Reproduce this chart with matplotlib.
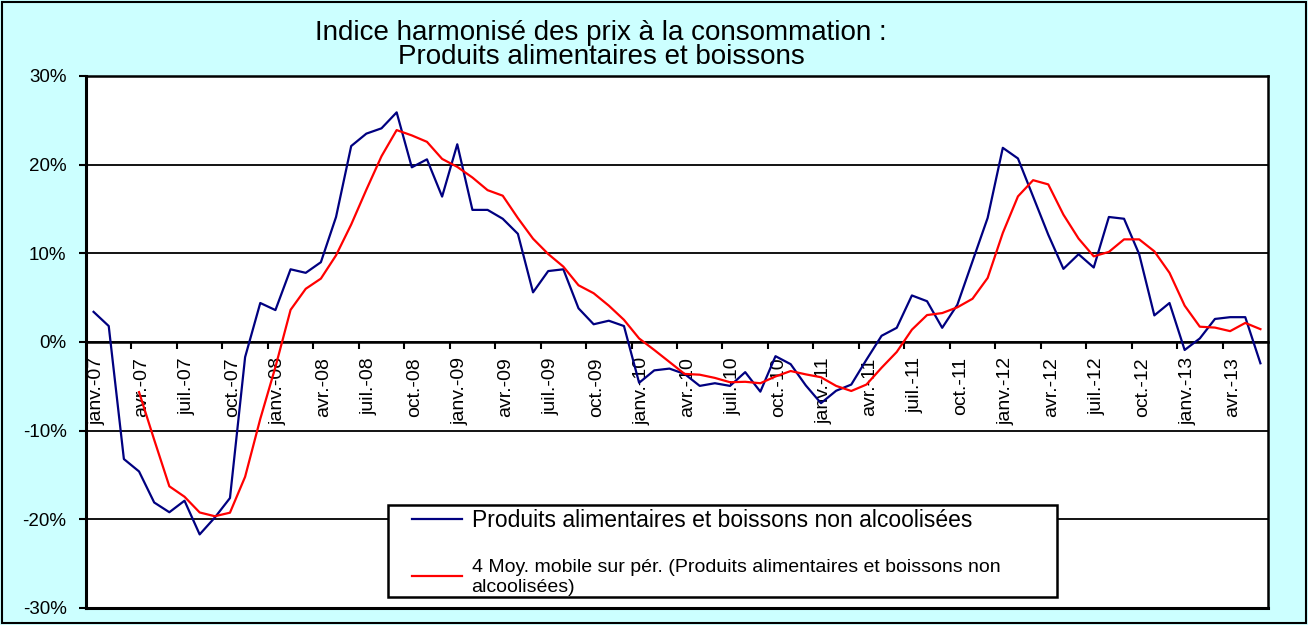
import matplotlib
matplotlib.use('Agg')
import matplotlib.pyplot as plt
import matplotlib.transforms as mtransforms
import numpy as np
import pandas as pd
from matplotlib.patches import Rectangle
from matplotlib.lines import Line2D

plt.rcParams['font.family'] = ['Liberation Sans', 'DejaVu Sans']

# ---- data (monthly, janv.-07 .. juin-13), % year-on-year ----
values = [3.4, 1.8, -13.2, -14.6, -18.1, -19.2, -17.9, -21.7, -19.8, -17.6, -1.7, 4.4,
          3.6, 8.2, 7.8, 9.0, 14.1, 22.1, 23.5, 24.1, 25.9, 19.7, 20.6, 16.4,
          22.3, 14.9, 14.9, 13.9, 12.2, 5.6, 8.0, 8.2, 3.8, 2.0, 2.4, 1.8,
          -4.6, -3.2, -3.0, -3.6, -4.95, -4.65, -4.95, -3.4, -5.6, -1.6, -2.5, -4.9,
          -6.9, -5.5, -4.8, -2.0, 0.7, 1.6, 5.25, 4.6, 1.6, 4.2, 9.1, 14.0,
          21.9, 20.7, 16.4, 12.1, 8.25, 9.9, 8.4, 14.1, 13.9, 9.9, 3.0, 4.4,
          -0.9, 0.4, 2.6, 2.8, 2.8, -2.4]

tick_labels = ['janv.-07', 'avr.-07', 'juil.-07', 'oct.-07',
               'janv.-08', 'avr.-08', 'juil.-08', 'oct.-08',
               'janv.-09', 'avr.-09', 'juil.-09', 'oct.-09',
               'janv.-10', 'avr.-10', 'juil.-10', 'oct.-10',
               'janv.-11', 'avr.-11', 'juil.-11', 'oct.-11',
               'janv.-12', 'avr.-12', 'juil.-12', 'oct.-12',
               'janv.-13', 'avr.-13']

y_ticks = [-30, -20, -10, 0, 10, 20, 30]

series_label = 'Produits alimentaires et boissons non alcoolisées'
trend_label = '4 Moy. mobile sur pér. (Produits alimentaires et boissons non\nalcoolisées)'
title_lines = ['Indice harmonisé des prix à la consommation :',
               'Produits alimentaires et boissons']

# 4-period moving average trendline (as Excel's trendline)
trend = pd.Series(values).rolling(4).mean()

W, H = 1308, 625
fig = plt.figure(figsize=(W / 100, H / 100), dpi=100)
fig.patch.set_facecolor('#CCFFFF')

ax = fig.add_axes([86 / W, 1 - 608 / H, (1268 - 86) / W, (608 - 76) / H])
ax.set_facecolor('white')

x = np.arange(len(values))
ax.plot(x, values, color='#000080', lw=1.6, zorder=3)
ax.plot(x, trend, color='#FF0000', lw=1.6, zorder=3)

ax.set_xlim(-0.5, len(values) - 0.5)
ax.set_ylim(-30, 30)

# y axis
ax.set_yticks(y_ticks)
ax.set_yticklabels([f'{v}%' for v in y_ticks], fontsize=13.5)
ax.tick_params(axis='y', direction='out', length=5, width=1.5, pad=9)
ax.yaxis.grid(True, color='black', lw=1.3)
ax.set_axisbelow(True)

# x axis crossing at zero
ax.spines['bottom'].set_position(('data', 0))
ax.spines['bottom'].set_linewidth(1.8)
ax.spines['left'].set_linewidth(2.2)
ax.spines['top'].set_linewidth(1.8)
ax.spines['right'].set_linewidth(1.8)
ax.axhline(-30, color='black', lw=2.2, clip_on=False, zorder=2)

ax.set_xticks(np.arange(2.5, len(values) - 1, 3))
ax.set_xticklabels([])
ax.tick_params(axis='x', which='major', direction='out', length=5, width=1.5)
ax.set_xticks(np.arange(0, len(values), 3), minor=True)
ax.set_xticklabels(tick_labels, minor=True, rotation=90, fontsize=14)
ax.tick_params(axis='x', which='minor', length=0, pad=11)
shift = mtransforms.ScaledTranslation(3 / 100, 0, fig.dpi_scale_trans)
for lbl in ax.get_xticklabels(minor=True):
    lbl.set_transform(lbl.get_transform() + shift)

# title
fig.text(601 / W, 1 - 33 / H, title_lines[0], ha='center', va='center', fontsize=20)
fig.text(601 / W, 1 - 57 / H, title_lines[1], ha='center', va='center', fontsize=20)

# legend box
ax.add_patch(Rectangle((388 / W, 1 - 597 / H), (1057 - 388) / W, (597 - 505) / H,
                       transform=fig.transFigure, facecolor='white', edgecolor='black',
                       lw=1.8, clip_on=False, zorder=4.5))
handles = [Line2D([], [], color='#000080', lw=1.6), Line2D([], [], color='#FF0000', lw=1.6)]
leg = ax.legend(handles, [series_label, trend_label], loc='upper left',
                bbox_to_anchor=(412 / W, 1 - 509 / H), bbox_transform=fig.transFigure,
                frameon=False, borderpad=0, borderaxespad=0, fontsize=16.5,
                handlelength=2.2, handletextpad=0.4, labelspacing=1.2)
leg.get_texts()[1].set_fontsize(14)
leg.set_zorder(5)

# outer border
fig.add_artist(Rectangle((0.0015, 0.003), 0.997, 0.994, transform=fig.transFigure,
                         fill=False, edgecolor='black', lw=1.5))

fig.savefig('out.png', dpi=100, facecolor=fig.get_facecolor())
